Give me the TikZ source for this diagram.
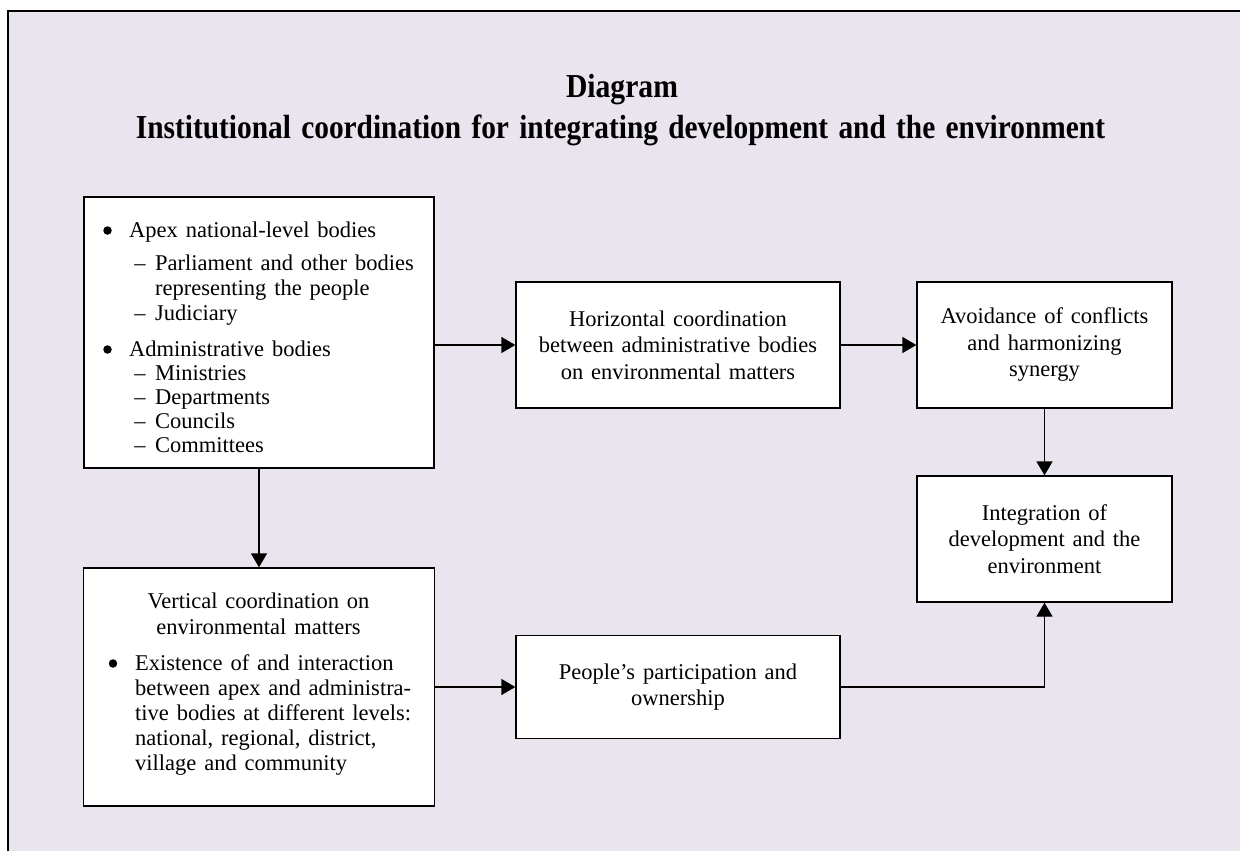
\documentclass[tikz,border=0pt]{standalone}
\usepackage{fontspec}
\setmainfont{Liberation Serif}[WordSpace=1.4]
\usetikzlibrary{arrows.meta}
\definecolor{bg}{RGB}{233,228,237}
\newcommand\fs{\fontsize{22.5}{26.5}\selectfont}
\newcommand\ttlfont{\fontsize{33.5}{40}\selectfont\bfseries}
\begin{document}
\begin{tikzpicture}[x=1pt,y=-1pt,
  box/.style={draw=black,fill=white,line width=1.3pt,inner sep=0pt,align=center,font=\fs},
  conn/.style={line width=1.3pt,-{Triangle[length=14pt,width=16pt]}},
  txt/.style={inner sep=0pt,anchor=base west,font=\fs},
  ctr/.style={inner sep=0pt,anchor=base,font=\fs},
  dot/.style={circle,fill=black,inner sep=0pt,minimum size=8.5pt},
  ttl/.style={inner sep=0pt,anchor=base},
]
\useasboundingbox (0,0) rectangle (1240,851);
\fill[white] (0,0) rectangle (1240,851);
\fill[bg] (7.8,11.2) rectangle (1240,851);
\draw[line width=2.4pt] (7.8,851) -- (7.8,11.2) -- (1240,11.2);

% title
\node[ttl] (t1) at (622,97) {\scalebox{0.885}[1]{\ttlfont Diagram}};
\node[ttl] (t2) at (620.5,138) {\scalebox{0.877}[1]{\ttlfont Institutional coordination for integrating development and the environment}};

% boxes
\node[box,minimum width=350pt,minimum height=271pt] (A) at (259,332.5) {};
\node[box,minimum width=351pt,minimum height=238pt] (B) at (259,687) {};
\node[box,minimum width=324pt,minimum height=126pt] (H) at (678,345) {Horizontal coordination\\between administrative bodies\\on environmental matters};
\node[box,minimum width=255pt,minimum height=126pt] (V) at (1044.5,345) {Avoidance of conflicts\\and harmonizing\\synergy};
\node[box,minimum width=255pt,minimum height=126pt] (I) at (1044.5,539) {Integration of\\development and the\\environment};
\node[box,minimum width=324pt,minimum height=103pt] (P) at (678,687) {People’s participation and\\ownership};

% text of box A
\node[dot] (ab1) at (107.5,230.5) {};
\node[txt] (at1) at (129,237) {Apex national-level bodies};
\node[ctr] (ad1) at (140,270) {–};
\node[txt] (at2) at (155,270) {Parliament and other bodies};
\node[txt] (at3) at (155,295.5) {representing the people};
\node[ctr] (ad2) at (140,320) {–};
\node[txt] (at4) at (155,320) {Judiciary};
\node[dot] (ab2) at (107.5,349.5) {};
\node[txt] (at5) at (129,356) {Administrative bodies};
\node[ctr] (ad3) at (140,380.5) {–};
\node[txt] (at6) at (155,380.5) {Ministries};
\node[ctr] (ad4) at (140,404.5) {–};
\node[txt] (at7) at (155,404.5) {Departments};
\node[ctr] (ad5) at (140,428.5) {–};
\node[txt] (at8) at (155,428.5) {Councils};
\node[ctr] (ad6) at (140,452.5) {–};
\node[txt] (at9) at (155,452.5) {Committees};

% text of box B
\node[ctr] (bt1) at (258.5,608) {Vertical coordination on};
\node[ctr] (bt2) at (258.5,634) {environmental matters};
\node[dot] (bb1) at (113,663.5) {};
\node[txt] (bt3) at (135,670) {Existence of and interaction};
\node[txt] (bt4) at (135,695) {between apex and administra-};
\node[txt] (bt5) at (135,720) {tive bodies at different levels:};
\node[txt] (bt6) at (135,745) {national, regional, district,};
\node[txt] (bt7) at (135,770) {village and community};

% connectors
\draw[conn] (A.south) -- (B.north);
\draw[conn] (A.east |- H.west) -- (H.west);
\draw[conn] (H.east) -- (V.west);
\draw[conn] (V.south) -- (I.north);
\draw[conn] (B.east) -- (P.west);
\draw[conn] (P.east) -| (I.south);
\end{tikzpicture}
\end{document}
